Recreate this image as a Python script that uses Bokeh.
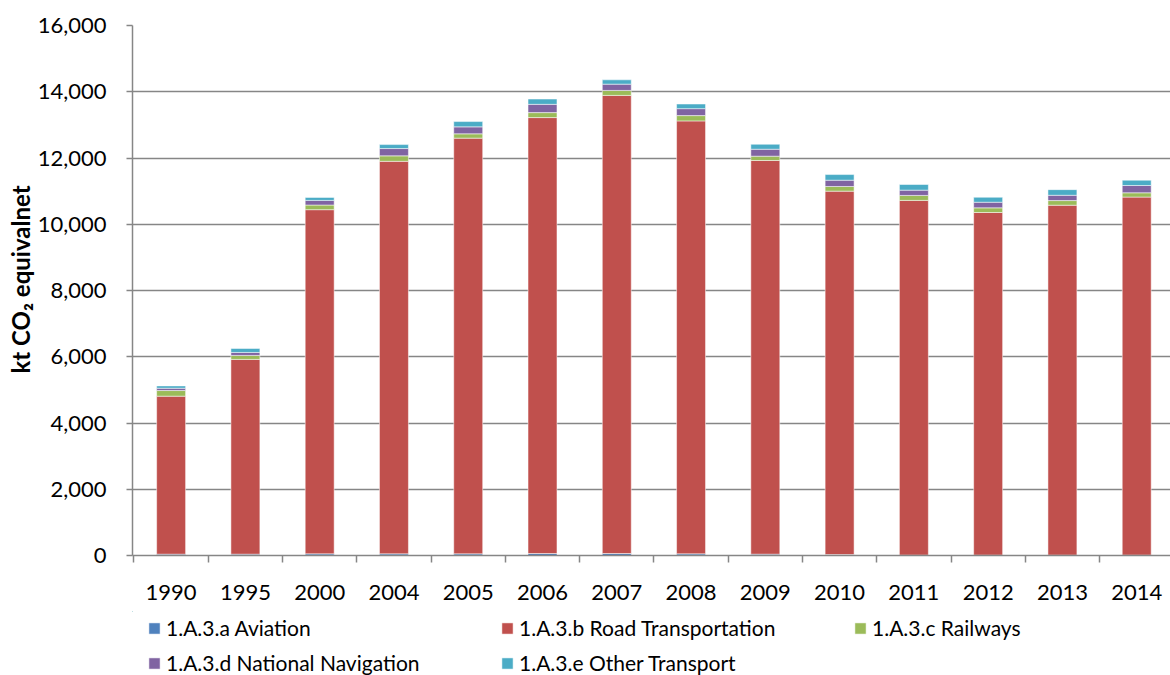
from bokeh.plotting import figure
from bokeh.layouts import column
from bokeh.models import (ColumnDataSource, Range1d, FixedTicker, NumeralTickFormatter,
                          Legend, LegendItem, Title)
from bokeh.embed import file_html
from bokeh.resources import INLINE

# ---- data (kt CO2 equivalent) ----
years = ["1990", "1995", "2000", "2004", "2005", "2006", "2007",
         "2008", "2009", "2010", "2011", "2012", "2013", "2014"]
aviation = [40, 40, 50, 50, 50, 60, 60, 50, 40, 30, 10, 10, 10, 10]
road = [4770, 5880, 10390, 11850, 12550, 13160, 13830,
        13070, 11885, 10970, 10710, 10345, 10565, 10810]
railways = [170, 120, 140, 165, 130, 150, 150, 160, 130, 140, 150, 140, 140, 130]
navigation = [70, 90, 140, 220, 210, 250, 190, 210, 210, 190, 160, 170, 160, 220]
other = [70, 120, 90, 120, 160, 160, 130, 140, 150, 170, 170, 150, 170, 160]

series = ["aviation", "road", "railways", "navigation", "other"]
labels = ["1.A.3.a Aviation", "1.A.3.b Road Transportation", "1.A.3.c Railways",
          "1.A.3.d National Navigation", "1.A.3.e Other Transport"]
colors = ["#4F81BD", "#C0504D", "#9BBB59", "#8064A2", "#4BACC6"]
y_ticks = [0, 2000, 4000, 6000, 8000, 10000, 12000, 14000, 16000]

FONT = "Lato"
GRID = "#868686"

xpos = list(range(len(years)))
src = ColumnDataSource(dict(x=xpos, aviation=aviation, road=road, railways=railways,
                            navigation=navigation, other=other))

p = figure(width=1170, height=611, output_backend="svg", toolbar_location=None,
           x_range=Range1d(-0.52, 13.455), y_range=Range1d(0, 16000),
           min_border_left=132, min_border_top=25, min_border_right=0,
           min_border_bottom=56)
p.outline_line_color = None

renderers = p.vbar_stack(series, x="x", width=0.39, source=src,
                         fill_color=colors, line_color="white", line_alpha=0.5,
                         line_width=1)

# y axis
yt = FixedTicker(ticks=y_ticks)
p.yaxis.ticker = yt
p.ygrid.ticker = yt
p.yaxis.formatter = NumeralTickFormatter(format="0,0")
p.yaxis.major_tick_out = 6
p.yaxis.major_tick_in = 0
p.yaxis.minor_tick_out = 0
p.yaxis.minor_tick_in = 0
p.yaxis.major_label_standoff = 20
p.ygrid.grid_line_color = GRID
p.ygrid.grid_line_width = 1.5
p.xgrid.visible = False

# x axis: labels at centres, tick marks between categories
p.xaxis.ticker = FixedTicker(ticks=xpos, minor_ticks=[i - 0.5 for i in range(len(years) + 1)])
p.xaxis.major_label_overrides = {i: y for i, y in enumerate(years)}
p.xaxis.major_tick_out = 0
p.xaxis.major_tick_in = 0
p.xaxis.minor_tick_out = 7
p.xaxis.minor_tick_in = 0
p.xaxis.major_label_standoff = 22

for ax in (p.xaxis, p.yaxis):
    ax.axis_line_color = GRID
    ax.axis_line_width = 1.5
    ax.major_tick_line_color = GRID
    ax.major_tick_line_width = 1.5
    ax.minor_tick_line_color = GRID
    ax.minor_tick_line_width = 1.5
    ax.major_label_text_font = FONT
    ax.major_label_text_font_size = "22px"
    ax.major_label_text_color = "black"

ytitle = Title(text="kt CO₂ equivalnet", align="left", offset=182,
               vertical_align="bottom", text_font=FONT, text_font_style="bold",
               text_font_size="24px", text_color="black", standoff=0)
p.add_layout(ytitle, "left")

# ---- legend strip (same data, drawn outside its visible ranges) ----
lg = figure(width=1170, height=64, output_backend="svg", toolbar_location=None,
            x_range=Range1d(100, 101), y_range=Range1d(-2, -1),
            x_axis_type=None, y_axis_type=None, min_border=0)
lg.outline_line_color = None
lg.grid.visible = False
lg_rs = lg.vbar_stack(series, x="x", width=0.39, source=src,
                      fill_color=colors, line_color="white", line_alpha=0.5, line_width=1)
legend = Legend(items=[LegendItem(label=l, renderers=[r]) for l, r in zip(labels, lg_rs)],
                orientation="horizontal", ncols=3, location=(15, 0),
                glyph_width=14, glyph_height=14, label_standoff=5,
                label_width=324, label_height=25, spacing=10,
                padding=0, margin=0, border_line_color=None,
                background_fill_color=None,
                label_text_font=FONT, label_text_font_size="21px",
                label_text_color="black")
lg.add_layout(legend)

layout = column(p, lg, spacing=0)
open("out.html", "w").write(file_html(layout, INLINE))
